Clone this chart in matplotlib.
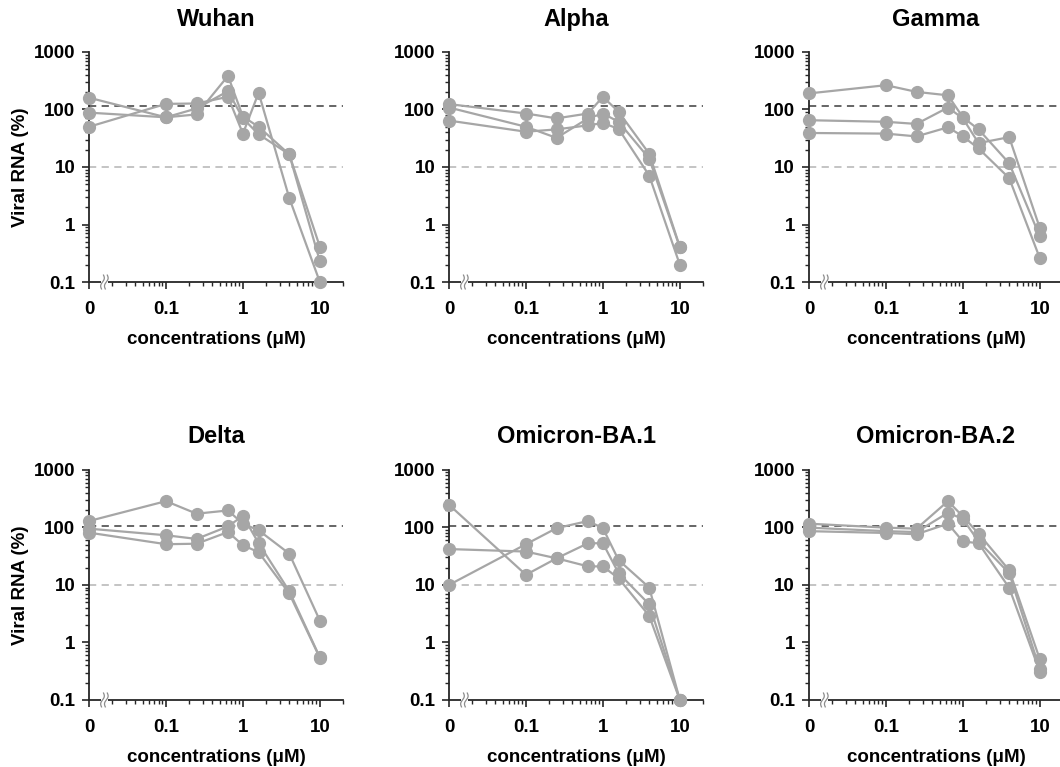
import numpy as np
import matplotlib
matplotlib.use("Agg")
import matplotlib.pyplot as plt
from matplotlib.ticker import FixedLocator, NullFormatter, LogLocator
from matplotlib.patches import Rectangle

plt.rcParams['font.family'] = ['Liberation Sans', 'DejaVu Sans']
plt.rcParams['font.weight'] = 'bold'

# concentrations (uM); 0 is drawn at the left end of the log axis
conc = [0, 0.1, 0.25, 0.64, 1, 1.6, 4, 10]
zero_pos = 0.01

variants = ["Wuhan", "Alpha", "Gamma", "Delta", "Omicron-BA.1", "Omicron-BA.2"]

wuhan = [
    [160, 73, 82, 383, 75, 50, 16.6, 0.23],
    [88, 73, 104, 208, 70, 37, 16.6, 0.41],
    [50, 125, 127, 166, 38, 195, 2.9, 0.1],
]
alpha = [
    [124, 85, 70, 85, 166, 91, 17, 0.41],
    [108, 50, 32, 70, 85, 61, 14, 0.40],
    [64, 41, 45, 53, 58, 46, 7.1, 0.2],
]
gamma = [
    [190, 264, 202, 176, 73, 45, 11.6, 0.62],
    [65, 61, 56, 108, 70, 26, 33, 0.87],
    [39, 38, 34, 49, 34, 21, 6.4, 0.26],
]
delta = [
    [129, 286, 173, 197, 116, 89, 35, 2.4],
    [95, 73, 63, 104, 159, 53, 7.8, 0.55],
    [81, 51, 52, 83, 49, 37, 7.1, 0.54],
]
ba1 = [
    [247, 15, 29, 53, 53, 16, 4.6, 0.1],
    [42, 38, 29, 21, 21, 13, 2.9, 0.1],
    [10, 51, 97, 129, 97, 27, 9, 0.1],
]
ba2 = [
    [116, 99, 95, 286, 155, 78, 18, 0.51],
    [99, 86, 83, 180, 140, 57, 16, 0.34],
    [86, 80, 76, 116, 57, 53, 8.9, 0.31],
]
all_data = [wuhan, alpha, gamma, delta, ba1, ba2]

# reference lines (top row / bottom row)
ref_hi = [115, 105]
ref_lo = 10

y_ticks = [0.1, 1, 10, 100, 1000]
y_labels = ["0.1", "1", "10", "100", "1000"]
x_ticks = [zero_pos, 0.1, 1, 10]
x_labels = ["0", "0.1", "1", "10"]

fig = plt.figure(figsize=(10.6, 7.67), dpi=100)

lefts = [0.0840, 0.4236, 0.7632]
bottoms = [0.6323, 0.0874]
w, h = 0.2396, 0.300

gray = '#A6A6A6'
xplot = [zero_pos if c == 0 else c for c in conc]

for i, (name, reps) in enumerate(zip(variants, all_data)):
    r, c = divmod(i, 3)
    ax = fig.add_axes([lefts[c], bottoms[r], w, h])
    ax.set_xscale('log')
    ax.set_yscale('log')
    ax.set_xlim(zero_pos, 20)
    ax.set_ylim(0.1, 1000)

    ax.axhline(ref_hi[r], color='#595959', lw=1.3, ls=(0, (4, 3)), zorder=1)
    ax.axhline(ref_lo, color='#BFBFBF', lw=1.3, ls=(0, (4, 3)), zorder=1)

    for rep in reps:
        ax.plot(xplot, rep, color=gray, lw=1.6, marker='o', ms=8.5,
                mec=gray, mfc=gray, clip_on=False, zorder=3)

    for s in ['top', 'right']:
        ax.spines[s].set_visible(False)
    for s in ['left', 'bottom']:
        ax.spines[s].set_linewidth(1.3)
        ax.spines[s].set_color('#262626')

    ax.yaxis.set_major_locator(FixedLocator(y_ticks))
    ax.set_yticklabels(y_labels)
    ax.yaxis.set_minor_locator(LogLocator(base=10, subs=np.arange(2, 10), numticks=20))
    ax.yaxis.set_minor_formatter(NullFormatter())
    ax.xaxis.set_major_locator(FixedLocator(x_ticks))
    ax.set_xticklabels(x_labels)
    ax.xaxis.set_minor_locator(FixedLocator(
        [k * 10.0 ** e for e in (-2, -1, 0, 1) for k in range(2, 10) if k * 10.0 ** e <= 20]))
    ax.xaxis.set_minor_formatter(NullFormatter())

    ax.tick_params(axis='both', which='major', direction='out', length=5, width=1.2,
                   labelsize=13.5, color='#262626')
    ax.tick_params(axis='x', which='major', pad=9)
    ax.tick_params(axis='y', which='major', pad=5)
    ax.tick_params(axis='both', which='minor', direction='out', length=3, width=1.0,
                   color='#262626')
    for lab in ax.get_xticklabels() + ax.get_yticklabels():
        lab.set_fontweight('bold')

    ax.set_title(name, fontsize=17, fontweight='bold', pad=19)
    ax.set_xlabel('concentrations (\u03bcM)', fontsize=13.5, fontweight='bold', labelpad=9)
    if c == 0:
        ax.set_ylabel('Viral RNA (%)', fontsize=13.5, fontweight='bold', labelpad=3)

    # axis break mark near zero
    tr = ax.transAxes
    ax.add_patch(Rectangle((0.046, -0.014), 0.03, 0.028, transform=tr,
                           facecolor='white', edgecolor='none', clip_on=False, zorder=4))
    t = np.linspace(-1, 1, 40)
    for x0 in (0.053, 0.068):
        ax.plot(x0 + 0.005 * np.sin(t * np.pi) + 0.004 * t, t * 0.03, transform=tr,
                color='#8C8C8C', lw=0.9, clip_on=False, zorder=5)

fig.savefig('out.png', dpi=100)
